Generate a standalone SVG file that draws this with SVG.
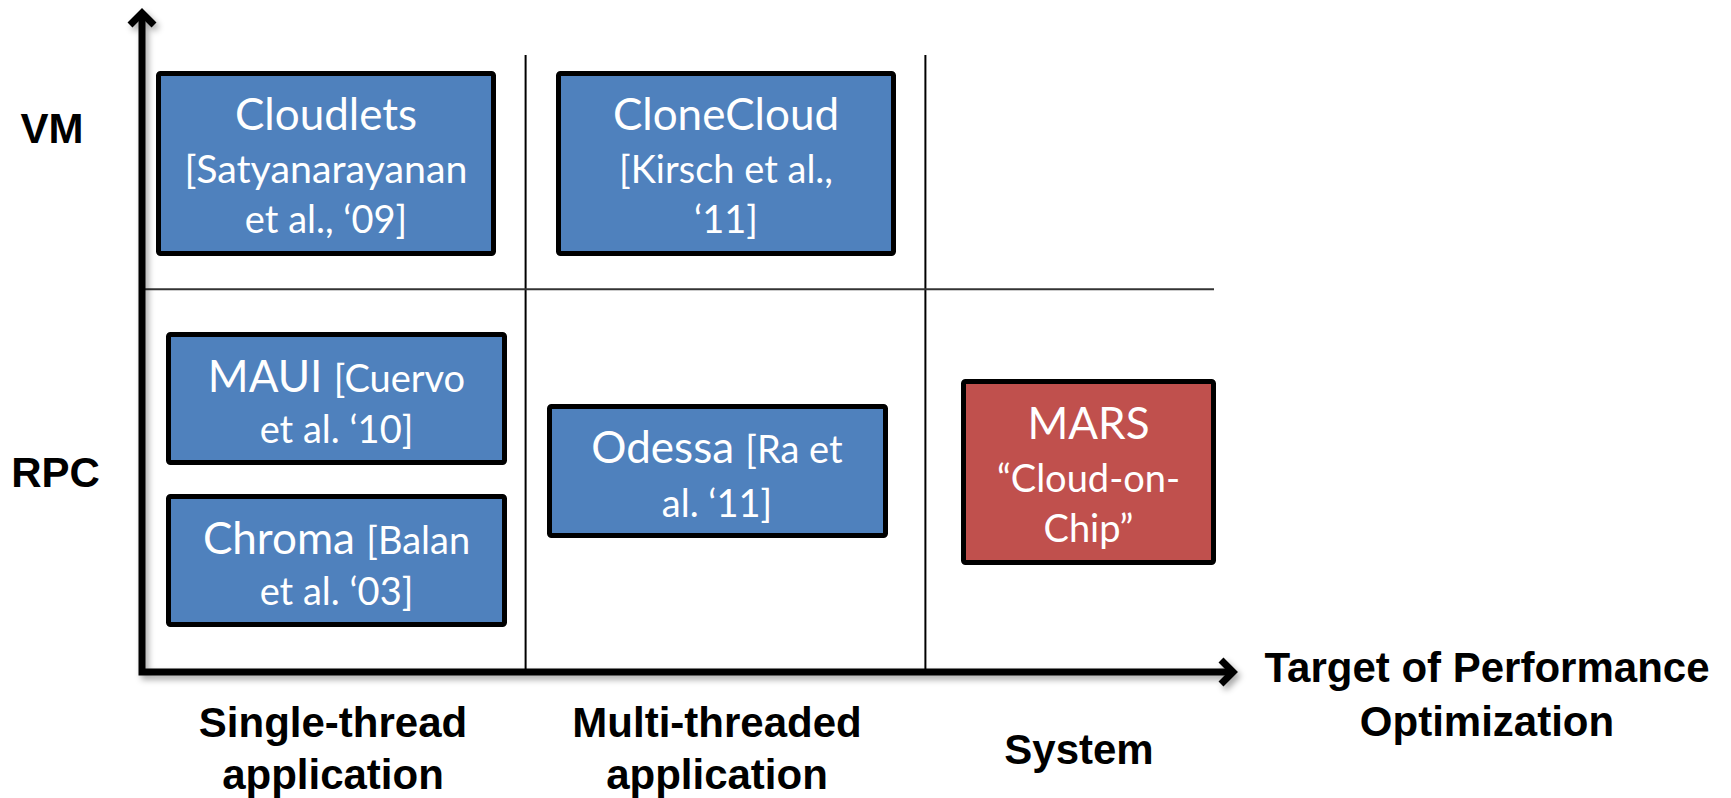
<svg xmlns="http://www.w3.org/2000/svg" width="1731" height="798" viewBox="0 0 1731 798">
  <style>
    .box { stroke: #000; stroke-width: 5; stroke-linejoin: round; }
    .blue { fill: #4F81BD; }
    .red { fill: #C0504D; }
    .t { font-family: Lato, "Open Sans", sans-serif; fill: #fff; text-anchor: middle; }
    .big { font-size: 44px; }
    .sm { font-size: 38px; }
    .lbl { font-family: "Liberation Sans", Arial, sans-serif; font-weight: bold; font-size: 42px; fill: #000; text-anchor: middle; }
    .grid { stroke: #000; stroke-width: 2; fill: none; }
    .hgrid { stroke: #333; stroke-width: 2; fill: none; }
    .axis { stroke: #000; stroke-width: 7; fill: none; stroke-linejoin: miter; }
  </style>
  <defs>
    <marker id="head" markerUnits="userSpaceOnUse" viewBox="-20 -20 30 40" refX="0" refY="0" markerWidth="30" markerHeight="40" orient="auto-start-reverse" overflow="visible">
      <path d="M -12,-12 L 0,0 L -12,12" fill="none" stroke="#000" stroke-width="7" stroke-linejoin="miter" stroke-linecap="butt"/>
    </marker>
    <filter id="shadow" x="-10%" y="-10%" width="120%" height="120%">
      <feDropShadow dx="3" dy="4" stdDeviation="3" flood-color="#000" flood-opacity="0.35"/>
    </filter>
  </defs>

  <g id="grid">
    <line class="grid" x1="525.6" y1="55" x2="525.6" y2="672"/>
    <line class="grid" x1="925.4" y1="55" x2="925.4" y2="672"/>
    <line class="hgrid" x1="142" y1="289.3" x2="1214" y2="289.3"/>
  </g>

  <g id="connectors">
    <path class="axis" filter="url(#shadow)" d="M 142,13 L 142,672 L 1233,672" marker-start="url(#head)" marker-end="url(#head)"/>
  </g>

  <g id="cloudlets">
    <rect class="box blue" x="158.5" y="73.5" width="335" height="180" rx="2"/>
    <text class="t big" x="326" y="130">Cloudlets</text>
    <text class="t sm" x="326" y="183" textLength="283" lengthAdjust="spacingAndGlyphs">[Satyanarayanan</text>
    <text class="t sm" x="326" y="233">et al., ‘09]</text>
  </g>

  <g id="clonecloud">
    <rect class="box blue" x="558.5" y="73.5" width="335" height="180" rx="2"/>
    <text class="t big" x="726" y="130">CloneCloud</text>
    <text class="t sm" x="726" y="183">[Kirsch et al.,</text>
    <text class="t sm" x="726" y="233">‘11]</text>
  </g>

  <g id="maui">
    <rect class="box blue" x="168.5" y="334.5" width="336" height="128" rx="2"/>
    <text class="t" x="336.5" y="392"><tspan class="big">MAUI </tspan><tspan class="sm">[Cuervo</tspan></text>
    <text class="t sm" x="336.5" y="443">et al. ‘10]</text>
  </g>

  <g id="chroma">
    <rect class="box blue" x="168.5" y="496.5" width="336" height="128" rx="2"/>
    <text class="t" x="336.5" y="554"><tspan class="big">Chroma </tspan><tspan class="sm">[Balan</tspan></text>
    <text class="t sm" x="336.5" y="605">et al. ‘03]</text>
  </g>

  <g id="odessa">
    <rect class="box blue" x="549.5" y="406.5" width="336" height="129" rx="2"/>
    <text class="t" x="717" y="463"><tspan class="big">Odessa </tspan><tspan class="sm">[Ra et</tspan></text>
    <text class="t sm" x="717" y="517">al. ‘11]</text>
  </g>

  <g id="mars">
    <rect class="box red" x="963.5" y="381.5" width="250" height="181" rx="2"/>
    <text class="t big" x="1088.5" y="439">MARS</text>
    <text class="t sm" x="1088.5" y="492">“Cloud-on-</text>
    <text class="t sm" x="1088.5" y="542">Chip”</text>
  </g>

  <g id="labels">
    <text class="lbl" x="52" y="143">VM</text>
    <text class="lbl" x="55.5" y="487">RPC</text>
    <text class="lbl" x="333" y="737">Single-thread</text>
    <text class="lbl" x="333" y="789">application</text>
    <text class="lbl" x="717" y="737">Multi-threaded</text>
    <text class="lbl" x="717" y="789">application</text>
    <text class="lbl" x="1079" y="764">System</text>
    <text class="lbl" x="1487" y="682">Target of Performance</text>
    <text class="lbl" x="1487" y="736">Optimization</text>
  </g>
</svg>
